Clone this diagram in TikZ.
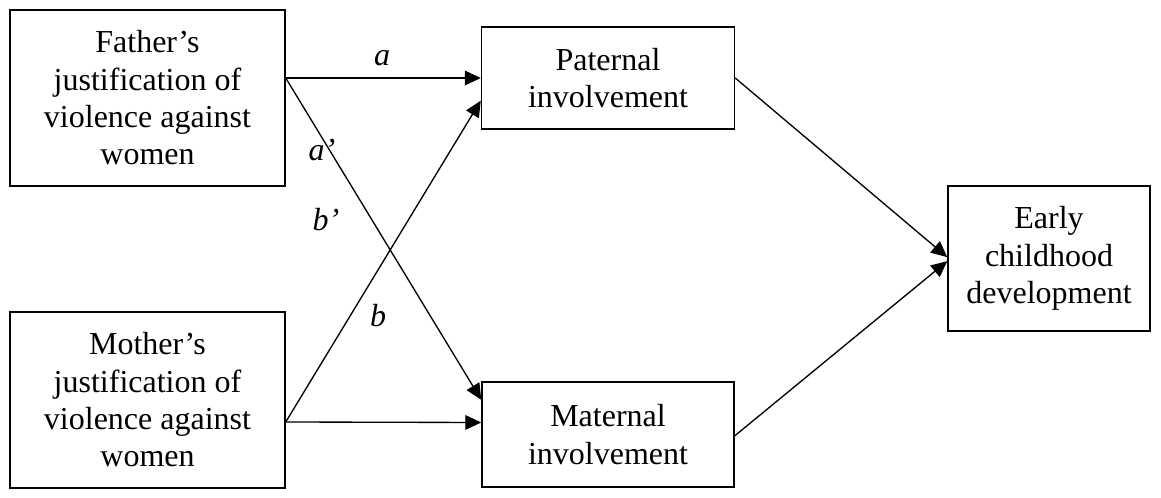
\documentclass[tikz,border=0pt]{standalone}
\usepackage{fontspec}
\setmainfont{Liberation Serif}
\usetikzlibrary{arrows.meta}
\begin{document}
\begin{tikzpicture}[x=0.75pt,y=-0.75pt,
  box/.style={draw,line width=1.1pt,align=center,inner sep=0pt,font=\fontsize{24}{28}\selectfont},
  arr/.style={line width=1pt,-{Triangle[length=12pt,width=11pt]}},
  lab/.style={font=\fontsize{24}{28}\selectfont\itshape}]
\fill[white] (0,0) rectangle (1161,498);
\useasboundingbox (0,0) rectangle (1161,498);
\node[box,minimum width=275*0.75pt,minimum height=176*0.75pt] (father) at (147.5,98) {Father’s\\justification of\\violence against\\women};
\node[box,minimum width=275*0.75pt,minimum height=176*0.75pt] (mother) at (147.5,400) {Mother’s\\justification of\\violence against\\women};
\node[box,minimum width=253*0.75pt,minimum height=102*0.75pt] (pat) at (608,78) {Paternal\\involvement};
\node[box,minimum width=252*0.75pt,minimum height=105*0.75pt] (mat) at (608,434.5) {Maternal\\involvement};
\node[box,minimum width=202*0.75pt,minimum height=145*0.75pt] (early) at (1049,258.5) {Early\\childhood\\development};
\coordinate (fo) at ([yshift=15pt]father.east);
\coordinate (mo) at ([yshift=-16.5pt]mother.east);
\coordinate (pa) at (pat.west);
\coordinate (pb) at ([yshift=-17pt]pat.west);
\coordinate (ma) at ([yshift=26pt]mat.west);
\coordinate (mb) at ([yshift=9pt]mat.west);
\coordinate (eo) at ([yshift=1pt]early.west);
\coordinate (ei) at ([yshift=-2pt]early.west);
\draw[arr] (fo) -- (pa);
\draw[arr] (fo) -- (ma);
\draw[arr] (mo) -- (pb);
\draw[arr] (mo) -- (mb);
\draw[arr] (pat.east) -- (eo);
\draw[arr] ([yshift=-1pt]mat.east) -- (ei);
\node[lab] (la) at (382,58) {a};
\node[lab] (la2) at (322,150) {a’};
\node[lab] (lb2) at (326,220) {b’};
\node[lab] (lb) at (378,316) {b};
\end{tikzpicture}
\end{document}
